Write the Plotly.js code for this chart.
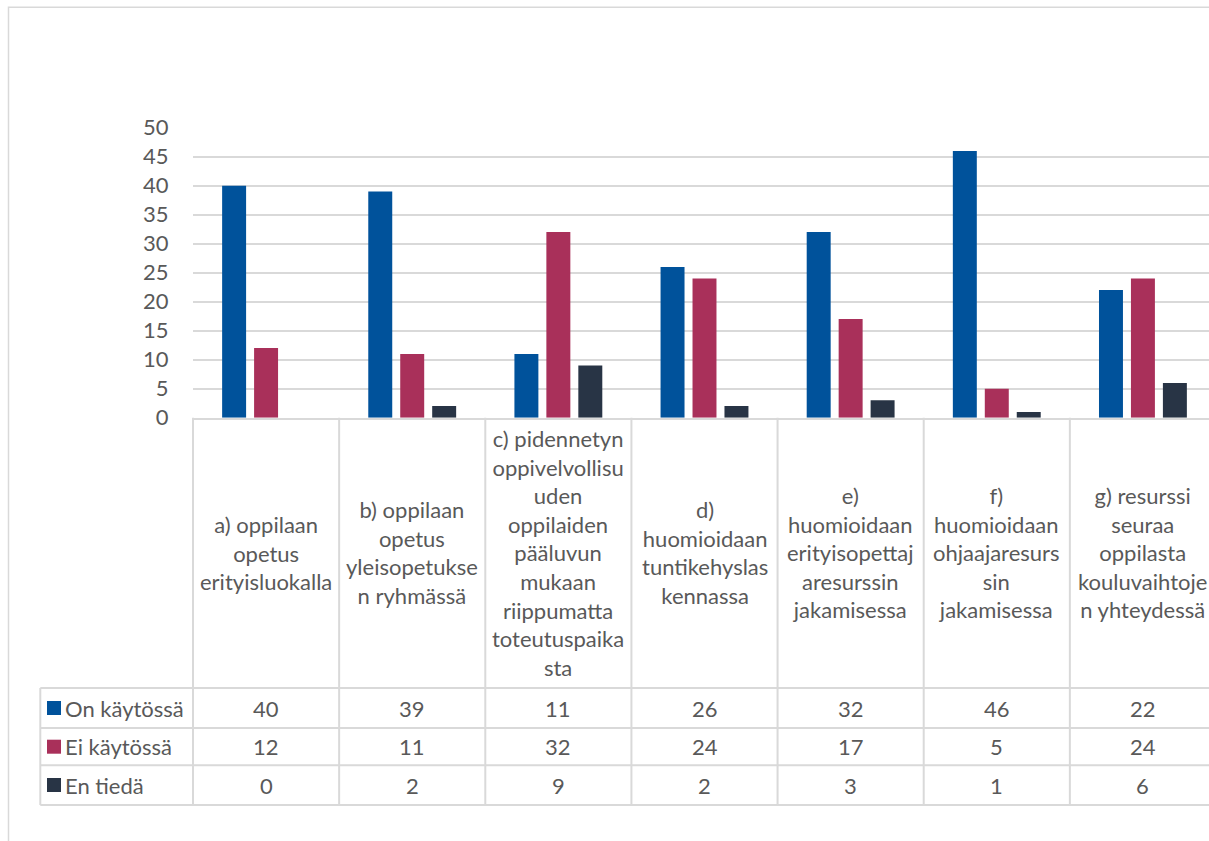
<!DOCTYPE html>
<html>
<head>
<meta charset="utf-8">
<script src="https://cdn.plot.ly/plotly-3.0.1.min.js"></script>
<style>
html,body{margin:0;padding:0;overflow:hidden;background:#fff;}
#chart{width:1218px;height:841px;}
</style>
</head>
<body>
<div id="chart"></div>
<script>
// ---- Data ----
const categoryLines = [
  ['a) oppilaan', 'opetus', 'erityisluokalla'],
  ['b) oppilaan', 'opetus', 'yleisopetukse', 'n ryhmässä'],
  ['c) pidennetyn', 'oppivelvollisu', 'uden', 'oppilaiden', 'pääluvun', 'mukaan', 'riippumatta', 'toteutuspaika', 'sta'],
  ['d)', 'huomioidaan', 'tuntikehyslas', 'kennassa'],
  ['e)', 'huomioidaan', 'erityisopettaj', 'aresurssin', 'jakamisessa'],
  ['f)', 'huomioidaan', 'ohjaajaresurs', 'sin', 'jakamisessa'],
  ['g) resurssi', 'seuraa', 'oppilasta', 'kouluvaihtoje', 'n yhteydessä']
];
const categories = categoryLines.map(l => l.join('<br>'));
const seriesNames = ['On käytössä', 'Ei käytössä', 'En tiedä'];
const onKaytossa = [40, 39, 11, 26, 32, 46, 22];
const eiKaytossa = [12, 11, 32, 24, 17, 5, 24];
const enTieda = [0, 2, 9, 2, 3, 1, 6];
const yTickVals = [0, 5, 10, 15, 20, 25, 30, 35, 40, 45, 50];

const seriesValues = [onKaytossa, eiKaytossa, enTieda];
const seriesColors = ['#00529b', '#a9305a', '#283445'];

// ---- Geometry helpers (pixel -> paper) ----
const W = 1218, H = 841;
const plotL = 193, plotR = 1217;
const plotW = plotR - plotL;
const px = x => (x - plotL) / plotW;
const py = y => 1 - y / H;

const axisTop = 127.7, axisBottom = 417.7;
const rowLines = [688, 728, 765.3, 805];
const rowCenters = [708, 746.7, 785];
const gridColor = '#d9d9d9';
const textColor = '#595959';
const fontFamily = 'Lato, "Open Sans", sans-serif';

const traces = seriesNames.map((name, s) => ({
  type: 'bar',
  name: name,
  x: categories,
  y: seriesValues[s],
  marker: { color: seriesColors[s], line: { width: 0 } },
  hoverinfo: 'x+y+name'
}));

const shapes = [];
const annotations = [];

// Outer chart border
shapes.push({ type: 'rect', xref: 'paper', yref: 'paper',
  x0: px(8.5), x1: 1.05, y0: py(7.3), y1: -0.05,
  line: { color: gridColor, width: 1.5 }, fillcolor: 'rgba(0,0,0,0)', layer: 'below' });

// Horizontal table lines
rowLines.forEach(y => shapes.push({ type: 'line', xref: 'paper', yref: 'paper',
  x0: px(40.3), x1: 1.05, y0: py(y), y1: py(y), line: { color: gridColor, width: 2 } }));

// Legend column left edge
shapes.push({ type: 'line', xref: 'paper', yref: 'paper',
  x0: px(40.3), x1: px(40.3), y0: py(rowLines[0]), y1: py(rowLines[3]), line: { color: gridColor, width: 2 } });

// Category column boundaries
shapes.push({ type: 'line', xref: 'paper', yref: 'paper',
  x0: 0, x1: 0, y0: py(axisBottom), y1: py(rowLines[3]), line: { color: gridColor, width: 2 } });
for (let i = 1; i <= categories.length; i++) {
  shapes.push({ type: 'line', xref: 'x', yref: 'paper',
    x0: i - 0.5, x1: i - 0.5, y0: py(axisBottom), y1: py(rowLines[3]), line: { color: gridColor, width: 2 } });
}

// Category labels
categories.forEach((c, i) => annotations.push({
  xref: 'x', yref: 'paper', x: i, y: py((axisBottom + rowLines[0]) / 2),
  text: c, showarrow: false, xanchor: 'center', yanchor: 'middle', align: 'center',
  font: { family: fontFamily, size: 22, color: textColor }
}));

// Data table: legend keys, names and values
seriesNames.forEach((name, s) => {
  shapes.push({ type: 'rect', xref: 'paper', yref: 'paper',
    x0: px(47), x1: px(61), y0: py(rowCenters[s] - 7), y1: py(rowCenters[s] + 7),
    fillcolor: seriesColors[s], line: { width: 0 } });
  annotations.push({ xref: 'paper', yref: 'paper', x: px(63), y: py(rowCenters[s]),
    text: name, showarrow: false, xanchor: 'left', yanchor: 'middle',
    font: { family: fontFamily, size: 22, color: textColor } });
  seriesValues[s].forEach((v, i) => annotations.push({
    xref: 'x', yref: 'paper', x: i, y: py(rowCenters[s]),
    text: String(v), showarrow: false, xanchor: 'center', yanchor: 'middle',
    font: { family: fontFamily, size: 22, color: textColor }
  }));
});

const layout = {
  width: W, height: H,
  margin: { l: plotL, r: W - plotR, t: 0, b: 0, autoexpand: false },
  paper_bgcolor: '#ffffff', plot_bgcolor: '#ffffff',
  showlegend: false,
  barmode: 'group',
  bargap: 0.344,
  bargroupgap: 0.25,
  font: { family: fontFamily, size: 22, color: textColor },
  xaxis: {
    type: 'category', showticklabels: false, ticks: '', showgrid: false,
    showline: true, linecolor: gridColor, linewidth: 2, zeroline: false,
    anchor: 'y', fixedrange: true
  },
  yaxis: {
    domain: [py(axisBottom), py(axisTop)],
    range: [0, 50], tickvals: yTickVals, ticktext: yTickVals.map(String),
    showgrid: true, gridcolor: gridColor, gridwidth: 2,
    zeroline: false, showline: false,
    ticks: 'outside', ticklen: 19, tickcolor: 'rgba(0,0,0,0)',
    tickfont: { family: fontFamily, size: 22, color: textColor },
    fixedrange: true
  },
  shapes: shapes,
  annotations: annotations
};

Plotly.newPlot('chart', traces, layout, { displayModeBar: false, responsive: false });
</script>
</body>
</html>
